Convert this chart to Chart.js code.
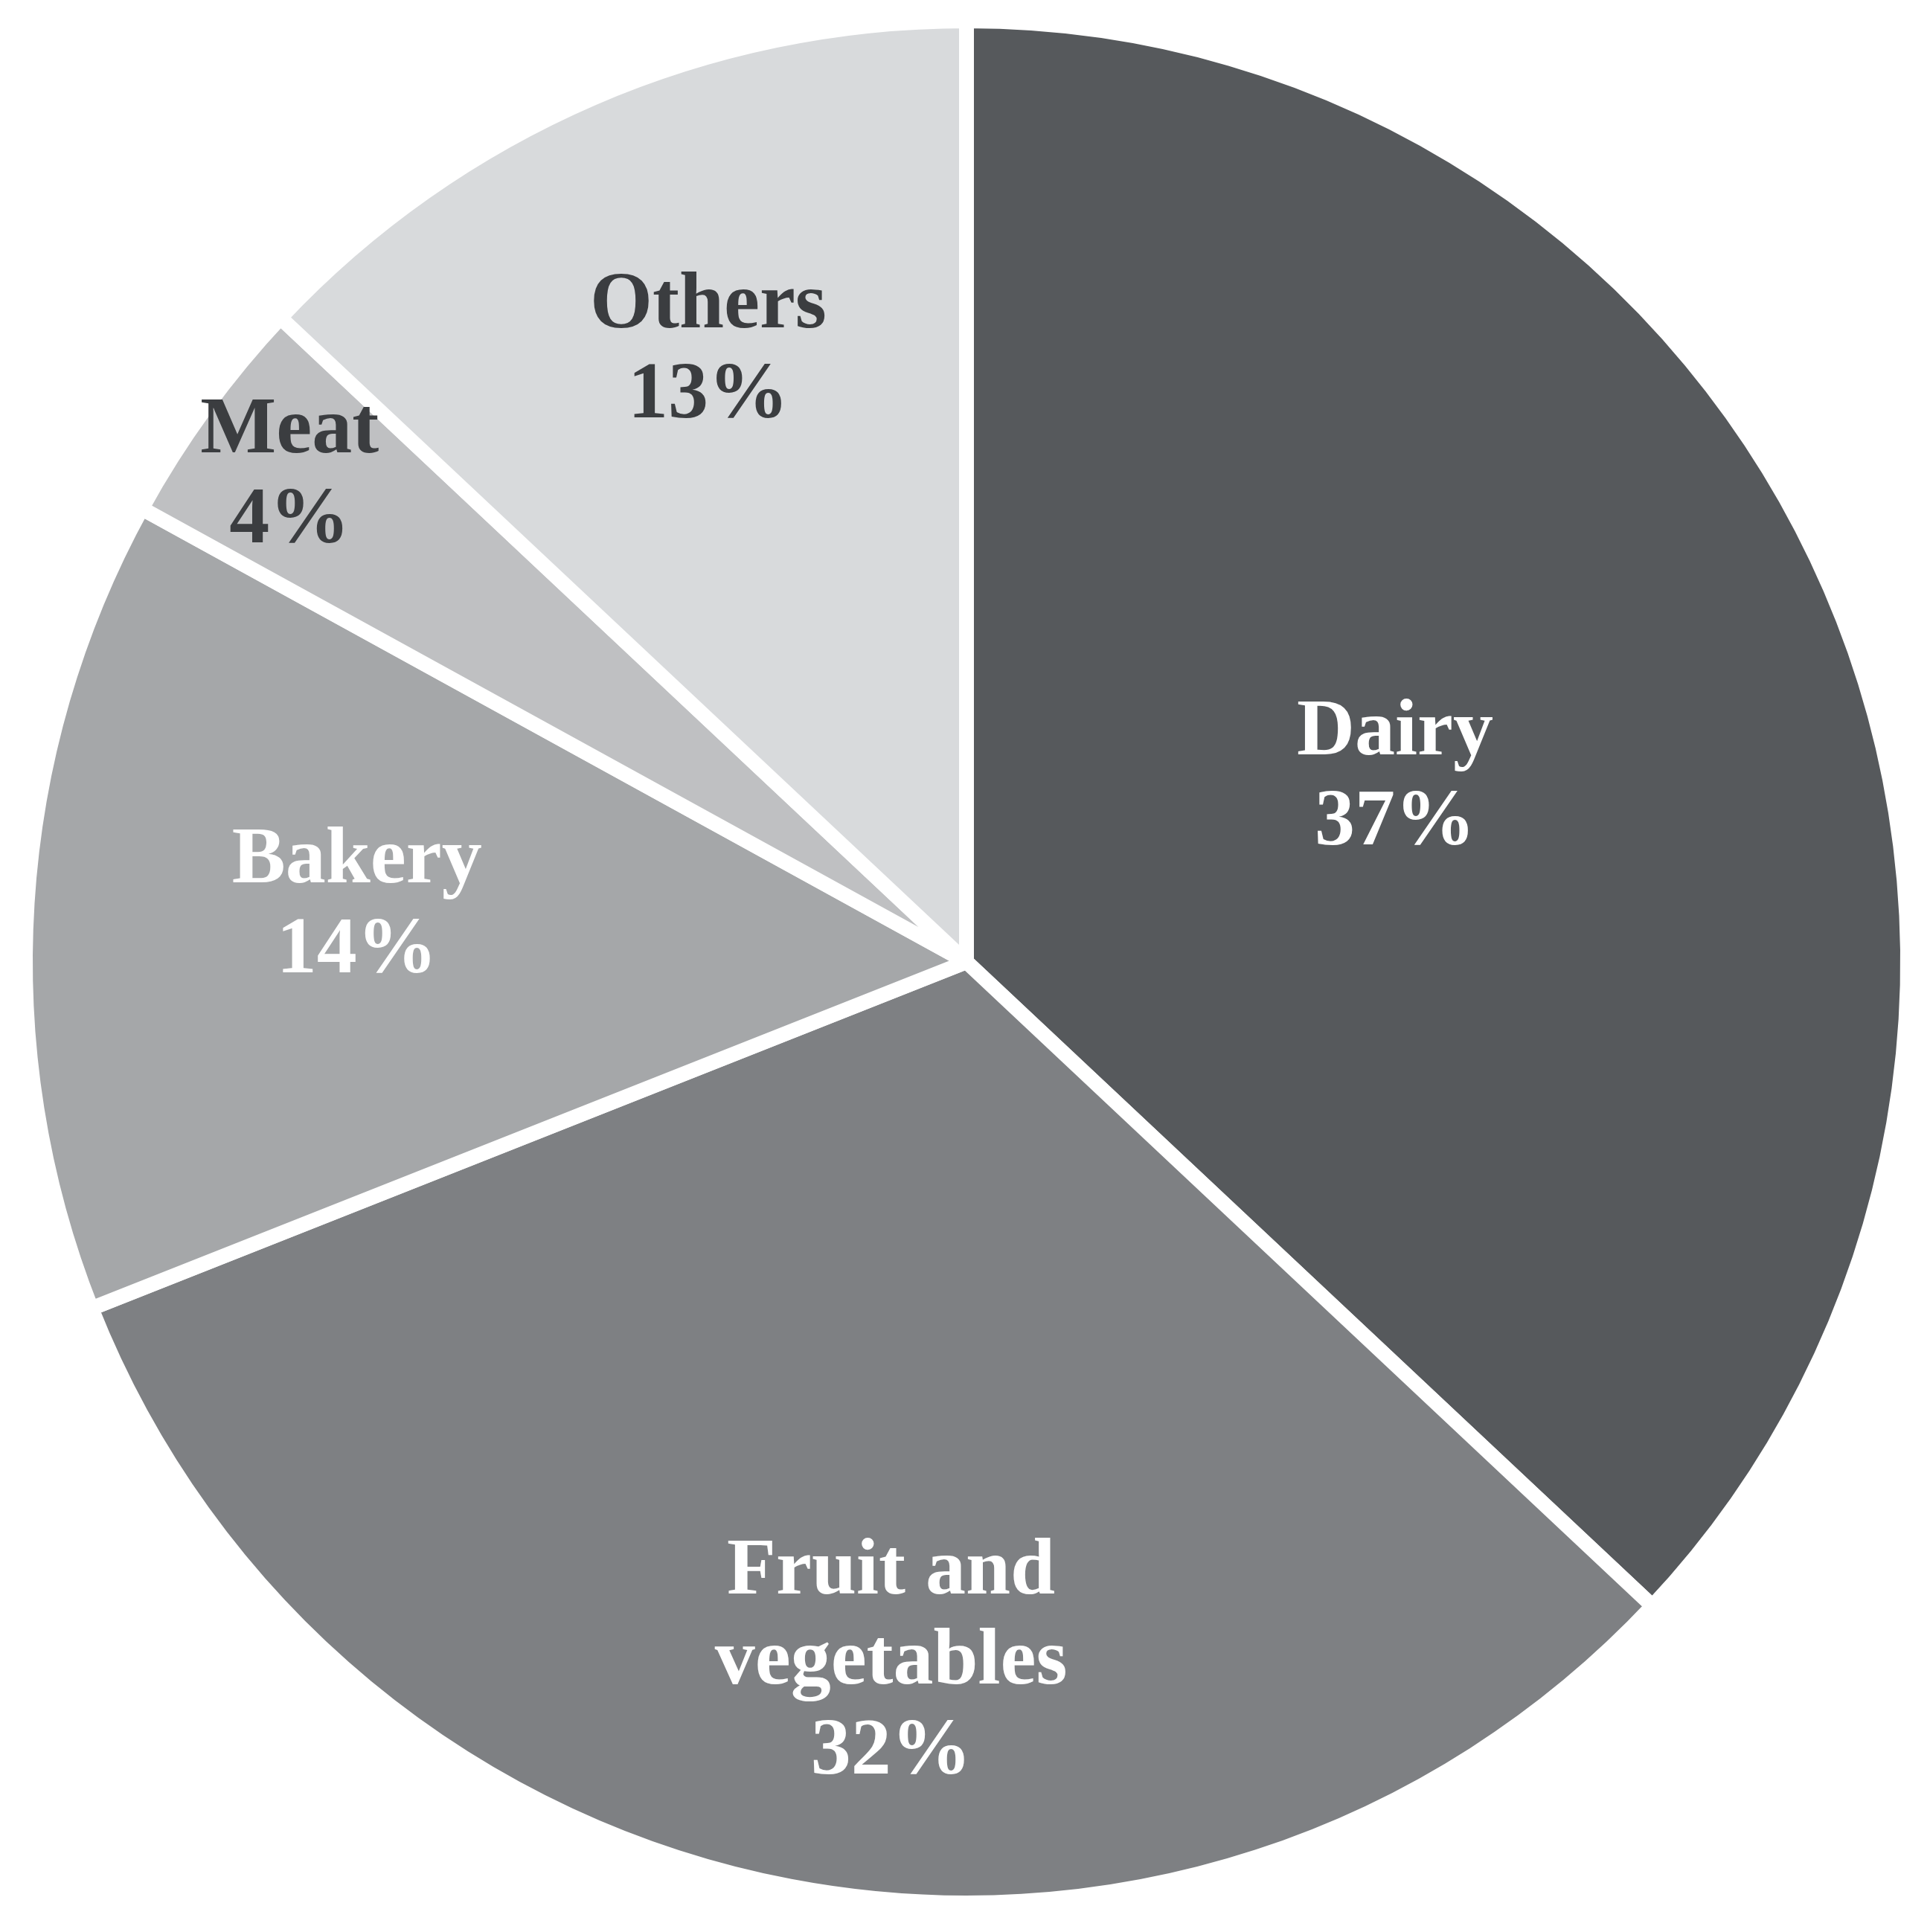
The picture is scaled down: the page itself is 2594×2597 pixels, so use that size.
<!DOCTYPE html>
<html>
<head>
<meta charset="utf-8">
<script src="https://cdn.jsdelivr.net/npm/chart.js@4.4.1/dist/chart.umd.min.js"></script>
<style>
  html, body { margin: 0; padding: 0; background: #ffffff; }
  #wrap { width: 2594px; height: 2597px; }
</style>
</head>
<body>
<div id="wrap"><canvas id="pieChart"></canvas></div>
<script>
// category names (one entry per line of the label)
const categories = [["Dairy"], ["Fruit and", "vegetables"], ["Bakery"], ["Meat"], ["Others"]];
const shares = [37, 32, 14, 4, 13];
const sliceColors = ["#56595c", "#7e8083", "#a5a7a9", "#bfc0c2", "#d8dadc"];
const labelColors = ["#ffffff", "#ffffff", "#ffffff", "#3b3d40", "#3b3d40"];
// where the label sits inside its slice: fraction of radius and angle nudge (deg)
const labelRadius = [0.498, 0.742, 0.651, 0.889, 0.711];
const labelNudge = [-0.5, -4.6, 2.2, 0, 0.7];

const sliceLabels = {
  id: "sliceLabels",
  afterDatasetsDraw(chart) {
    const ctx = chart.ctx;
    const arcs = chart.getDatasetMeta(0).data;
    ctx.save();
    ctx.font = "bold 108px 'Liberation Serif', 'Times New Roman', serif";
    ctx.textAlign = "center";
    ctx.textBaseline = "alphabetic";
    const lineH = 121;
    arcs.forEach(function (arc, i) {
      const p = arc.getProps(["x", "y", "startAngle", "endAngle", "outerRadius"], true);
      const mid = (p.startAngle + p.endAngle) / 2 + labelNudge[i] * Math.PI / 180;
      const r = p.outerRadius * labelRadius[i];
      const cx = p.x + Math.cos(mid) * r;
      const cy = p.y + Math.sin(mid) * r;
      const lines = categories[i].concat([shares[i] + "%"]);
      const top = cy - (lines.length - 1) * lineH / 2 + 37;
      ctx.fillStyle = labelColors[i];
      lines.forEach(function (t, k) {
        ctx.fillText(t, cx, top + k * lineH);
      });
    });
    ctx.restore();
  }
};

new Chart(document.getElementById("pieChart").getContext("2d"), {
  type: "pie",
  data: {
    labels: categories.map(function (c) { return c.join(" "); }),
    datasets: [{
      data: shares,
      backgroundColor: sliceColors,
      borderColor: "#ffffff",
      borderWidth: 20
    }]
  },
  options: {
    responsive: true,
    maintainAspectRatio: false,
    animation: false,
    radius: 1265,
    layout: { padding: { left: 4, bottom: 11 } },
    plugins: {
      legend: { display: false },
      tooltip: { enabled: false }
    }
  },
  plugins: [sliceLabels]
});
</script>
</body>
</html>
